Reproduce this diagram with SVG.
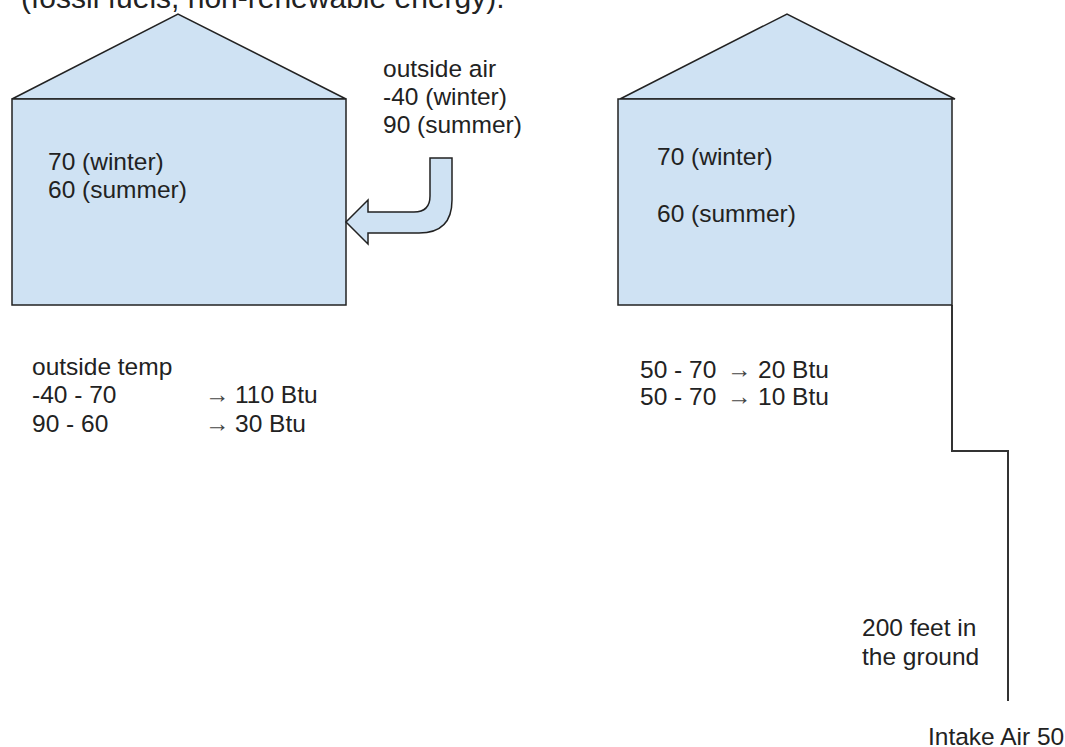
<svg xmlns="http://www.w3.org/2000/svg" width="1065" height="747" viewBox="0 0 1065 747">
<style>
.t{font-family:"Liberation Sans",Arial,sans-serif;font-size:24.5px;fill:#222}
.ar{font-family:"Liberation Sans",Arial,sans-serif;font-size:24.5px;fill:#444}
.shape{fill:#cfe2f3;stroke:#222;stroke-width:1.5;stroke-linejoin:miter}
.line{fill:none;stroke:#333;stroke-width:2}
</style>
<rect width="1065" height="747" fill="#fff"/>
<text class="t" x="21" y="8" style="font-size:30px">(fossil fuels, non-renewable energy).</text>
<g id="house-left">
<polygon class="shape" points="12,99 178,14 346,99"/>
<rect class="shape" x="12" y="99" width="334" height="206"/>
<text class="t" x="48" y="170">70 (winter)</text>
<text class="t" x="48" y="198">60 (summer)</text>
</g>
<g id="outside-air">
<text class="t" x="383" y="77">outside air</text>
<text class="t" x="383" y="105">-40 (winter)</text>
<text class="t" x="383" y="133">90 (summer)</text>
</g>
<g id="connectors">
<path id="bent-arrow" class="shape" d="M430,158 L452,158 L452,200 Q452,233 419,233 L368,233 L368,244 L346,222 L368,200 L368,212 L414,212 Q430,212 430,196 Z"/>
<polyline id="pipe" class="line" points="952,305 952,451 1008,451 1008,701"/>
</g>
<g id="calc-left">
<text class="t" x="32" y="375">outside temp</text>
<text class="t" x="32" y="403">-40 - 70</text>
<text class="t" x="32" y="432">90 - 60</text>
<text class="ar" x="205" y="403">→</text>
<text class="t" x="235" y="403">110 Btu</text>
<text class="ar" x="205" y="432">→</text>
<text class="t" x="235" y="432">30 Btu</text>
</g>
<g id="house-right">
<polygon class="shape" points="620,99 787,14 955,99"/>
<rect class="shape" x="618" y="99" width="334" height="206"/>
<text class="t" x="657" y="165">70 (winter)</text>
<text class="t" x="657" y="222">60 (summer)</text>
</g>
<g id="calc-right">
<text class="t" x="640" y="378">50 - 70</text>
<text class="ar" x="727" y="378">→</text>
<text class="t" x="758" y="378">20 Btu</text>
<text class="t" x="640" y="405">50 - 70</text>
<text class="ar" x="727" y="405">→</text>
<text class="t" x="758" y="405">10 Btu</text>
</g>
<g id="ground-label">
<text class="t" x="862" y="636">200 feet in</text>
<text class="t" x="862" y="665">the ground</text>
</g>
<g id="intake-label">
<text class="t" x="928" y="745">Intake Air 50</text>
</g>
</svg>
